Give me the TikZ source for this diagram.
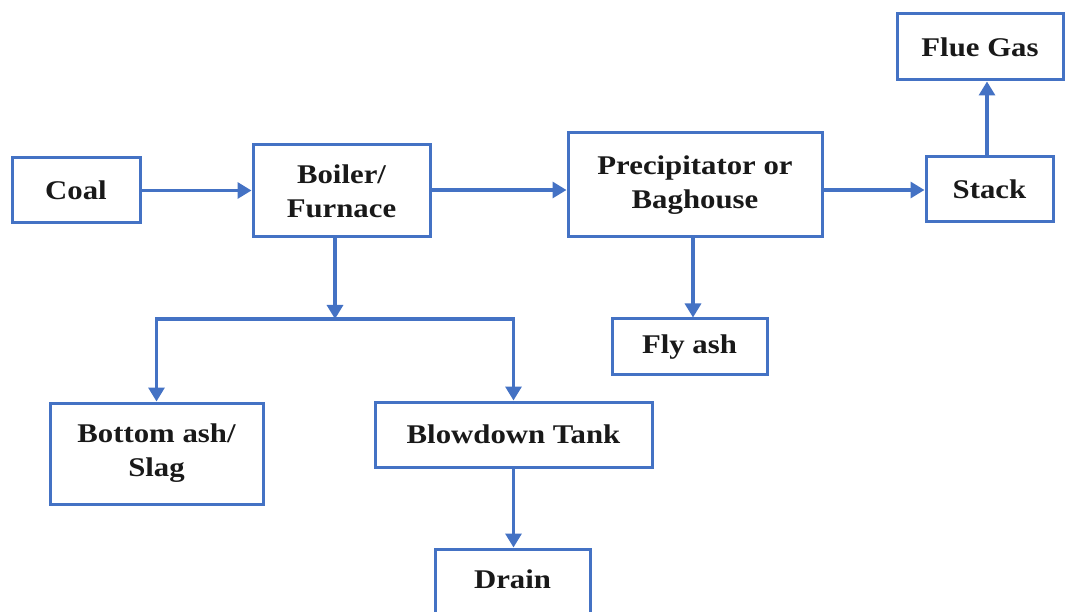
\documentclass[tikz,border=0pt]{standalone}
\usepackage{fontspec}
\setmainfont{Liberation Serif}[FakeStretch=1.14]
\usetikzlibrary{arrows.meta,calc}
\definecolor{flowblue}{RGB}{68,114,196}
\begin{document}
\begin{tikzpicture}[x=1pt,y=-1pt,
  box/.style={draw=flowblue,line width=3pt,fill=white,inner sep=0pt,
    align=center,font=\fontsize{27}{34}\selectfont\bfseries,text=black!90},
  flow/.style={draw=flowblue,line width=3.2pt,
    -{Triangle[length=14pt,width=16pt]},line join=miter}]
\useasboundingbox (0,0) rectangle (1066,612);
\clip (0,0) rectangle (1066,612);

% process boxes
\node[box,minimum width=128pt,minimum height=65pt]  (coal)   at (76,190.5)   {Coal};
\node[box,minimum width=177pt,minimum height=92pt]  (boiler) at (341.5,191)  {Boiler/\\Furnace};
\node[box,minimum width=254pt,minimum height=104pt] (precip) at (695,185)    {Precipitator or\\Baghouse};
\node[box,minimum width=127pt,minimum height=65pt]  (stack)  at (989.5,189.5) {Stack};
\node[box,minimum width=166pt,minimum height=66pt]  (flue)   at (980,47)     {Flue Gas};
\node[box,minimum width=155pt,minimum height=56pt]  (flyash) at (689.5,347)  {Fly ash};
\node[box,minimum width=213pt,minimum height=101pt] (bottom) at (156.5,453.5) {Bottom ash/\\Slag};
\node[box,minimum width=277pt,minimum height=65pt]  (blow)   at (513.5,434.5) {Blowdown Tank};
\node[box,minimum width=155pt,minimum height=92pt,text depth=32pt] (drain) at (512.5,595) {Drain};

% branch point below the boiler
\coordinate (split) at (335,319);

% connectors
\draw[flow] (coal.east) -- (coal.east -| boiler.west);
\draw[flow] (boiler.east |- 0,190) -- (precip.west |- 0,190);
\draw[flow] (precip.east |- 0,190) -- (stack.west |- 0,190);
\draw[flow] (987,0 |- stack.north) -- (987,0 |- flue.south);
\draw[flow] (split |- boiler.south) -- (split);
\draw[flow] (split) -| (bottom.north);
\draw[flow] (split) -| (blow.north);
\draw[flow] (693,0 |- precip.south) -- (693,0 |- flyash.north);
\draw[flow] (blow.south) -- (blow.south |- drain.north);
\end{tikzpicture}
\end{document}
